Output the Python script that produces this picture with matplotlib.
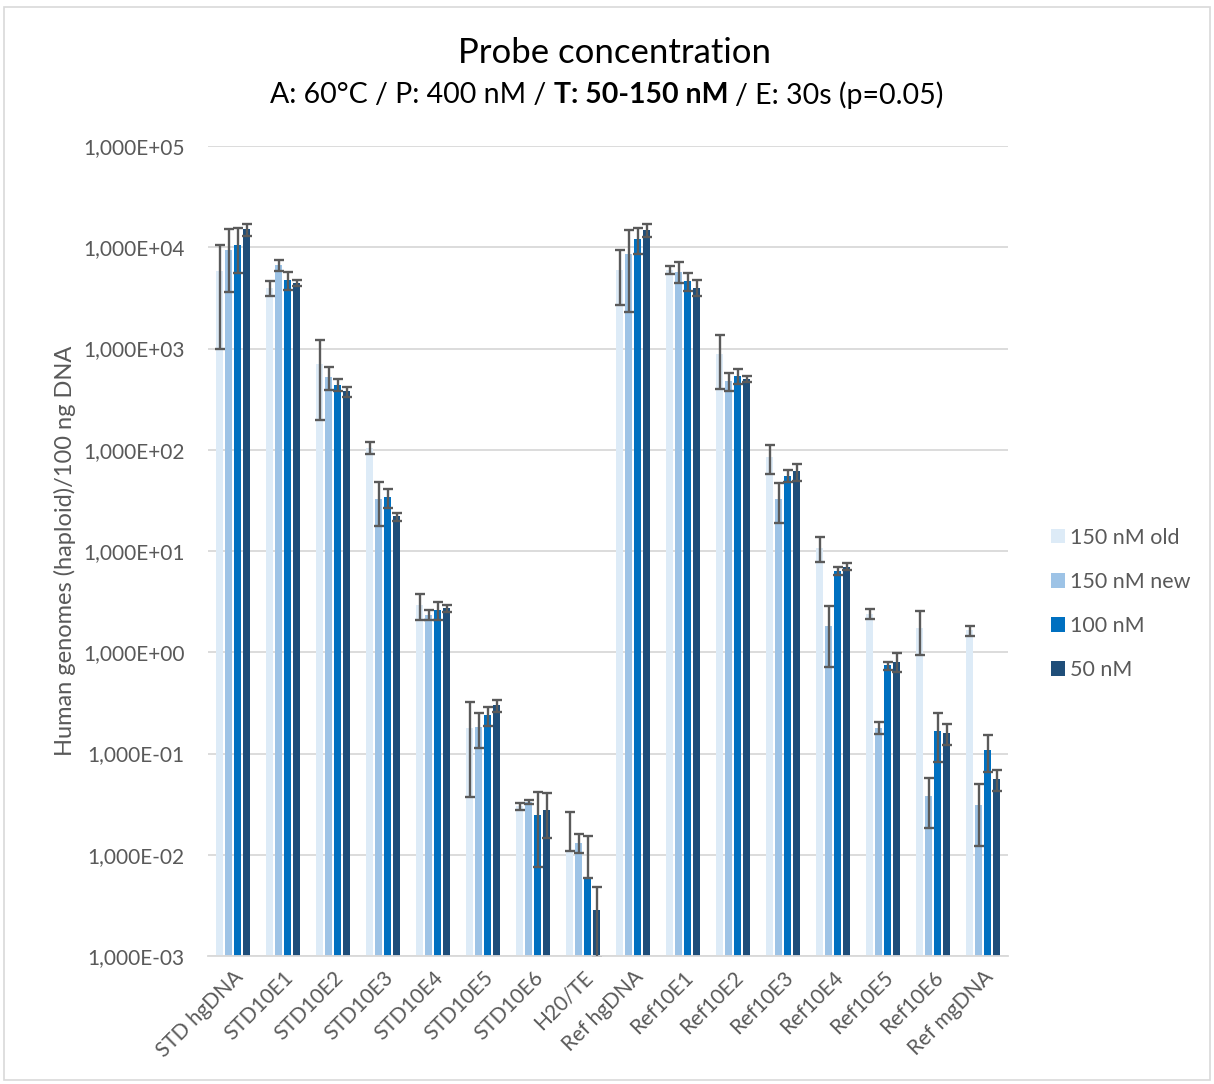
import numpy as np
import matplotlib
matplotlib.use("Agg")
import matplotlib.pyplot as plt
from matplotlib.ticker import FixedLocator, FuncFormatter, NullLocator
from matplotlib.patches import Rectangle, Patch

plt.rcParams['font.family'] = ['Lato', 'DejaVu Sans']

categories = ["STD hgDNA", "STD10E1", "STD10E2", "STD10E3", "STD10E4", "STD10E5",
              "STD10E6", "H20/TE", "Ref hgDNA", "Ref10E1", "Ref10E2", "Ref10E3",
              "Ref10E4", "Ref10E5", "Ref10E6", "Ref mgDNA"]
series_names = ["150 nM old", "150 nM new", "100 nM", "50 nM"]

nm150_old = [5800, 3950, 700, 105, 2.95, 0.18, 0.030, 0.0109,
             6000, 6000, 880, 84, 10.8, 2.4, 1.75, 1.64]
nm150_old_err = [4800, 650, 505, 14, 0.85, 0.143, 0.0025, 0.0154,
                 3300, 570, 480, 27, 3.1, 0.28, 0.8, 0.19]

nm150_new = [9300, 6650, 520, 33, 2.35, 0.182, 0.0335, 0.0132,
             8600, 5750, 475, 32.7, 1.8, 0.18, 0.038, 0.031]
nm150_new_err = [5700, 820, 135, 15.5, 0.27, 0.068, 0.0016, 0.0027,
                 6300, 1350, 95, 14, 1.08, 0.023, 0.0195, 0.0187]

nm100 = [10600, 4700, 440, 34, 2.6, 0.238, 0.0248, 0.00586,
         12000, 4650, 540, 55.5, 6.4, 0.74, 0.166, 0.109]
nm100_err = [5000, 950, 57, 7.3, 0.5, 0.052, 0.0173, 0.0096,
             3400, 930, 90, 7.7, 0.6, 0.07, 0.084, 0.044]

nm50 = [15000, 4450, 377, 22, 2.73, 0.298, 0.0276, 0.00285,
        14800, 4000, 500, 61, 7.0, 0.81, 0.159, 0.056]
nm50_err = [2100, 290, 42, 2, 0.21, 0.04, 0.013, 0.0019,
            2200, 700, 30, 12, 0.58, 0.175, 0.037, 0.013]

colors = ["#DDEBF7", "#9DC3E6", "#0070C0", "#1F4E79"]
TXT = "#595959"
GRID = "#D9D9D9"

fig = plt.figure(figsize=(12.14, 10.84), dpi=100)
ax = fig.add_axes([208 / 1214, 128 / 1084, 800 / 1214, 810 / 1084])

x = np.arange(len(categories))
step, width = 0.18, 0.14
series = [(nm150_old, nm150_old_err), (nm150_new, nm150_new_err),
          (nm100, nm100_err), (nm50, nm50_err)]
for i, (vals, errs) in enumerate(series):
    vals = np.array(vals)
    errs = np.array(errs)
    # on a log axis a lower bar below zero collapses onto the value
    lower = np.where(errs < vals, errs, 0)
    pos = x + (i - 1.5) * step
    ax.bar(pos, vals, width=width, color=colors[i], zorder=2)
    ax.errorbar(pos, vals, yerr=[lower, errs], fmt='none', ecolor="#5A5A5A",
                elinewidth=1.7, capsize=3.8, capthick=1.7, zorder=3)

ax.set_yscale('log')
ax.set_ylim(1e-3, 1e5)
ax.set_xlim(-0.5, len(categories) - 0.5)
ax.yaxis.set_major_locator(FixedLocator([10.0 ** k for k in range(-3, 6)]))
ax.yaxis.set_minor_locator(NullLocator())


def sci_comma(v, pos):
    s = "%.3E" % v
    mant, ex = s.split("E")
    sign = ex[0]
    return "%sE%s%02d" % (mant.replace(".", ","), sign, abs(int(ex)))


ax.yaxis.set_major_formatter(FuncFormatter(sci_comma))
ax.grid(axis='y', color=GRID, linewidth=1.3, zorder=0)
ax.set_axisbelow(True)
for side in ['left', 'right', 'top']:
    ax.spines[side].set_visible(False)
ax.spines['bottom'].set_color(GRID)
ax.spines['bottom'].set_linewidth(1.3)
ax.tick_params(axis='both', length=0, labelcolor=TXT, labelsize=15)
ax.tick_params(axis='y', pad=17)
ax.set_xticks(x)
ax.set_xticklabels(categories, rotation=45, ha='right', va='top',
                   rotation_mode='anchor')
ax.tick_params(axis='x', pad=8)

ax.set_ylabel("Human genomes (haploid)/100 ng DNA", color=TXT, fontsize=17, labelpad=5)

# title and mixed-weight subtitle
fig.text(614 / 1214, 1 - 53 / 1084, "Probe concentration", ha='center', va='center',
         fontsize=25, color="black")
parts = [("A: 60°C / P: 400 nM /", "normal"), ("T: 50-150 nM", "bold"),
         ("/ E: 30s (p=0.05)", "normal")]
sub_y = 1 - 95 / 1084
sub_size = 20.5
renderer = fig.canvas.get_renderer()
texts = [fig.text(0, sub_y, s, fontsize=sub_size, fontweight=w, color="black",
                  va='center') for s, w in parts]
probe_a = fig.text(0, 0, "xx", fontsize=sub_size)
probe_b = fig.text(0, 0, "x x", fontsize=sub_size)
space = probe_b.get_window_extent(renderer).width - probe_a.get_window_extent(renderer).width
probe_a.remove()
probe_b.remove()
widths = [t.get_window_extent(renderer).width for t in texts]
total = sum(widths) + space * (len(texts) - 1)
cur = (fig.bbox.width - total) / 2
for t, w in zip(texts, widths):
    t.set_x(cur / fig.bbox.width)
    cur += w + space

handles = [Patch(facecolor=c, edgecolor='none') for c in colors]
fig.legend(handles, series_names, loc='center left',
           bbox_to_anchor=(1032 / 1214, 1 - 604 / 1084), frameon=False,
           fontsize=15.5, labelcolor=TXT, handlelength=0.65, handleheight=0.65,
           handletextpad=0.22, labelspacing=1.12)

# chart area border
fig.patches.append(Rectangle((4 / 1214, 4 / 1084), 1206 / 1214, 1073 / 1084,
                             transform=fig.transFigure, fill=False,
                             edgecolor=GRID, linewidth=1.2))

fig.savefig("out.png", dpi=100, facecolor='white')
